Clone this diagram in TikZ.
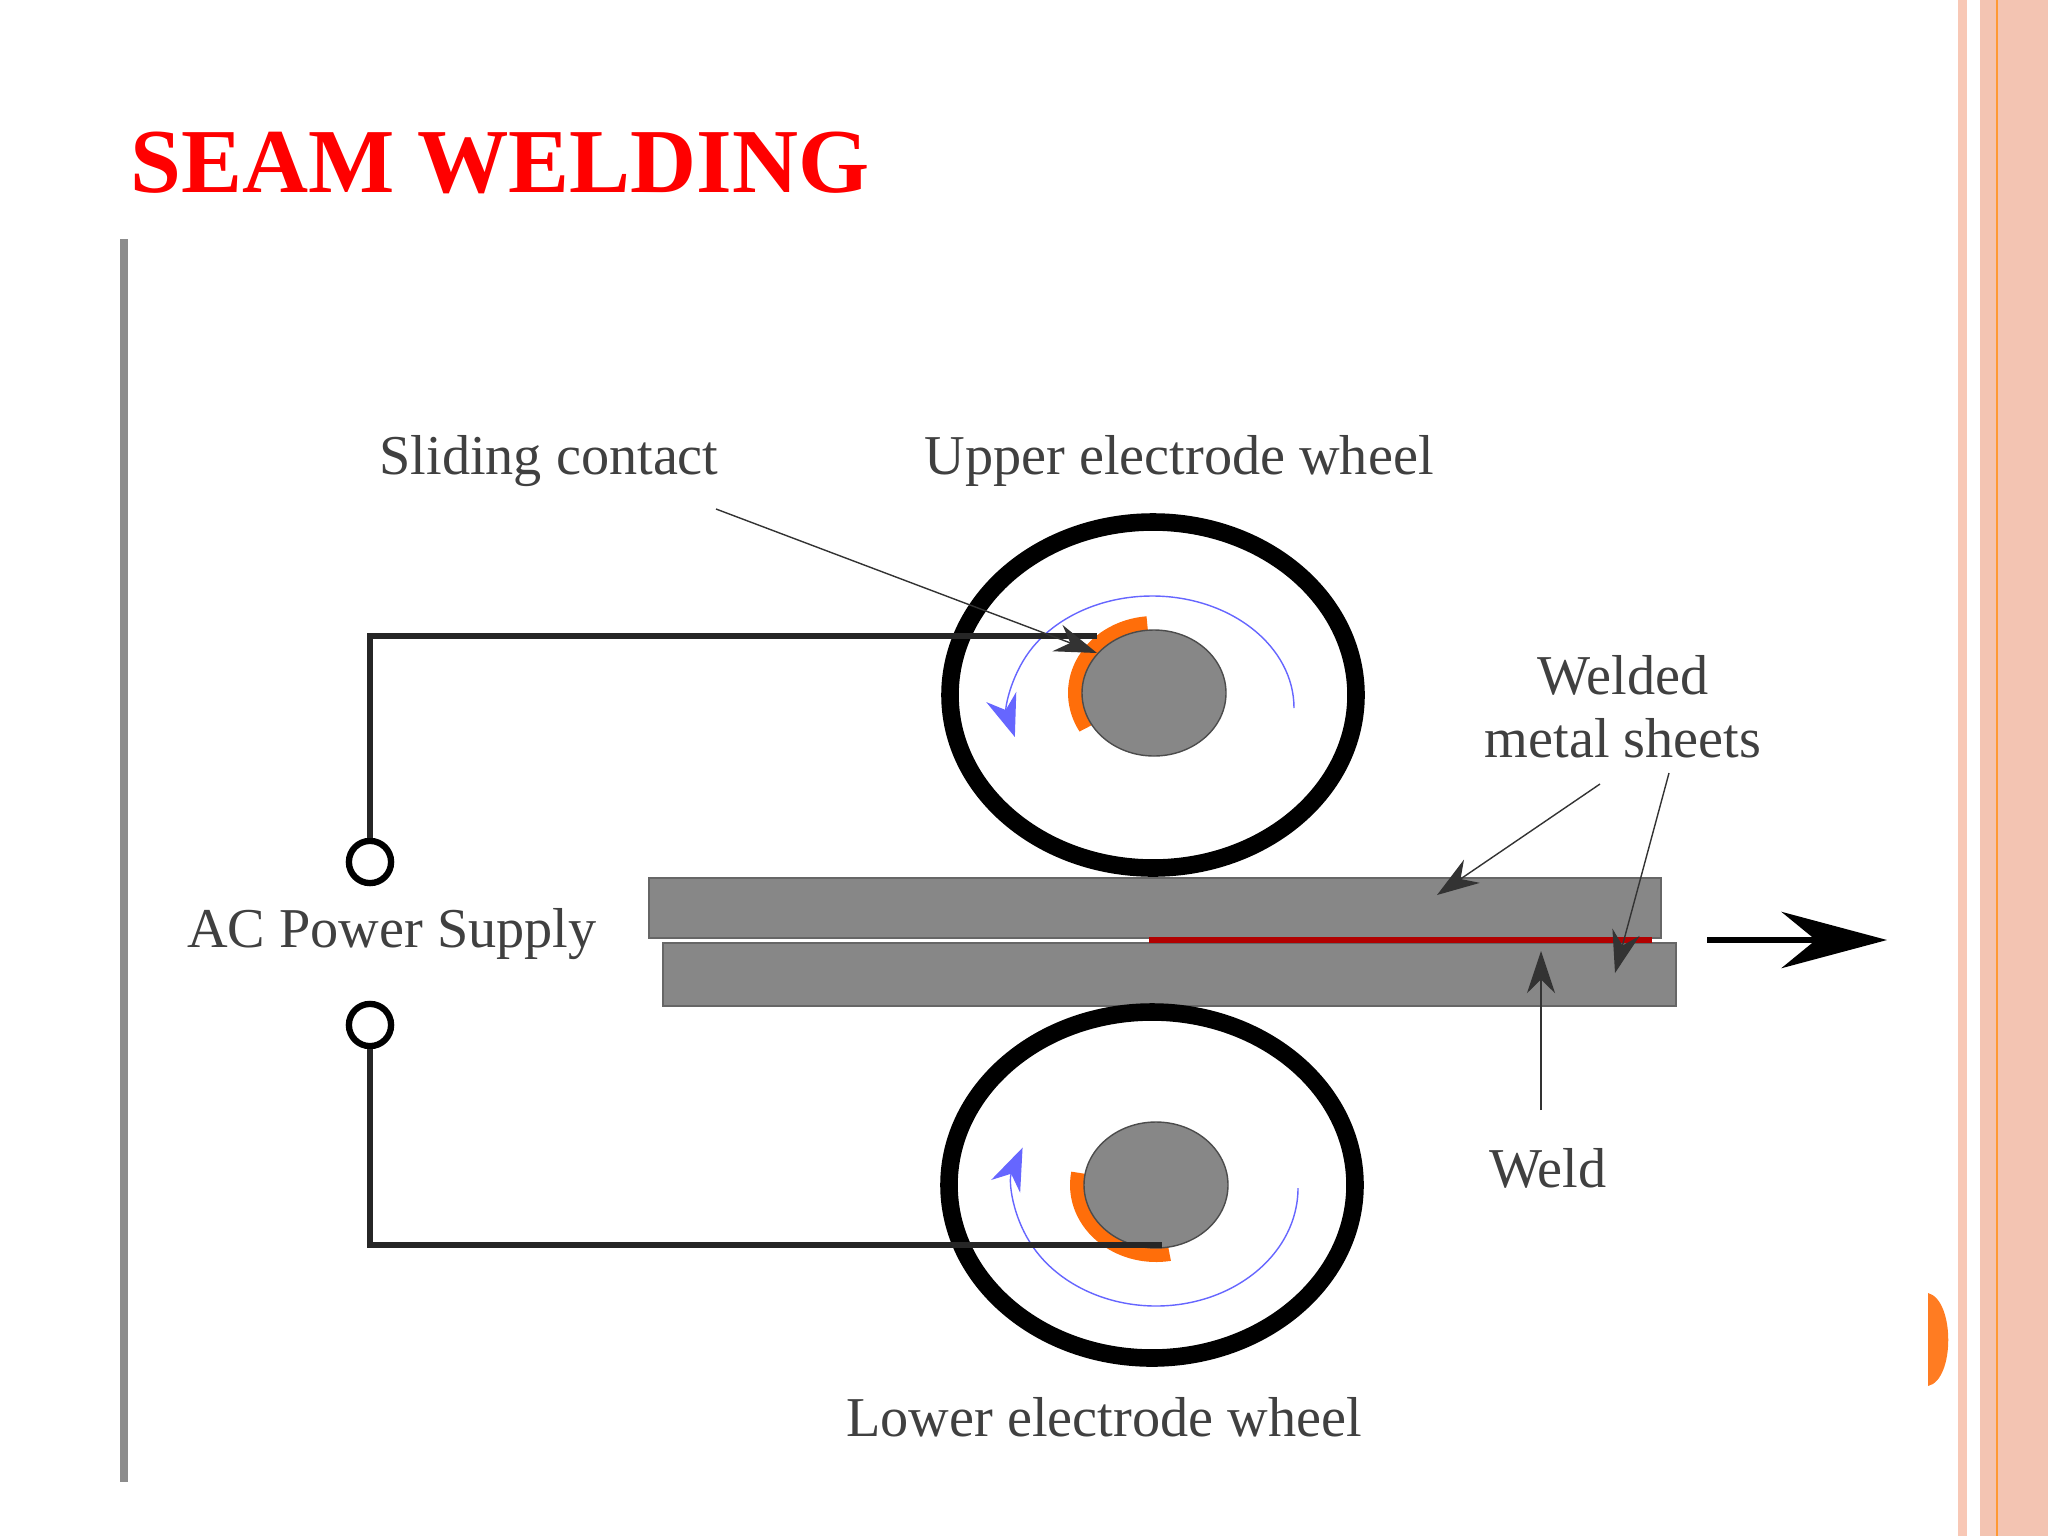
\documentclass[tikz,border=0pt]{standalone}
\usepackage{fontspec}
\setmainfont{Liberation Serif}
\usetikzlibrary{arrows.meta}
\definecolor{stripe}{RGB}{243,196,178}
\definecolor{lightstripe}{RGB}{248,200,182}
\definecolor{contact}{RGB}{255,110,10}
\definecolor{sheet}{RGB}{135,135,135}
\tikzset{
  label/.style={text=black!75,font=\fontsize{16}{18}\selectfont},
  wire/.style={line width=1.6pt,black!85},
  terminal/.style={draw,circle,line width=1.8pt,minimum size=12pt,inner sep=0pt},
  leader/.style={thin,black!80,-{Stealth[length=12pt,width=8pt]}},
  wheel/.style={line width=5pt},
  spin/.style={blue!60,thin,-{Stealth[length=12pt,width=9pt]}}
}
\begin{document}
\begin{tikzpicture}[x=0.01cm,y=-0.01cm]
    \useasboundingbox (0,0) rectangle (2048,1536);
    
    % slide frame
    \fill[lightstripe] (1958,0) rectangle (1967,1536);
    \fill[stripe] (1980,0) rectangle (2048,1536);
    \draw[orange!80,thick] (1997,0) -- (1997,1536);
    \fill[contact!90] (1928,1293) .. controls (1955,1300) and (1955,1380) .. (1928,1386) -- cycle;
    \draw[black!45,line width=2pt] (124,239) -- (124,1482);
    \node[anchor=west,text=red,font=\bfseries\fontsize{26}{30}\selectfont] (title) at (118,163) {SEAM WELDING};
    
    % sheets
    \fill[sheet] (663,943) rectangle (1676,1006);
    \draw[black!60] (663,943) rectangle (1676,1006);
    \fill[sheet] (649,878) rectangle (1661,938);
    \draw[black!60] (649,878) rectangle (1661,938);
    \draw[red!70!black,line width=1.5pt] (1149,940) -- (1652,940);
    
    % wheels
    \draw[wheel,fill=white] (1153,695) ellipse (203 and 173);
    \draw[wheel,fill=white] (1152,1185) ellipse (203 and 173);
    \fill[contact] (1154,693) -- ++(-95:86 and 77) arc (-95:-210:86 and 77) -- cycle;
    \fill[contact] (1156,1185) -- ++(-170:86 and 77) arc (-170:-280:86 and 77) -- cycle;
    \draw[black!70,fill=sheet] (1154,693) ellipse (72 and 63);
    \draw[black!70,fill=sheet] (1156,1185) ellipse (72 and 63);
    \draw[spin] (1294,708) arc (0:-195:142 and 112);
    \draw[spin] (1298,1188) arc (0:200:142 and 118);
    
    % circuit
    \node[terminal] (t1) at (370,862) {};
    \node[terminal] (t2) at (370,1025) {};
    \coordinate (c1) at (1097,636);
    \coordinate (c2) at (1162,1245);
    \draw[wire] (t1) |- (c1);
    \draw[wire] (t2) |- (c2);
    \node[label] (ac) at (392,934) {AC Power Supply};
    
    % labels
    \node[label] (slide) at (549,461) {Sliding contact};
    \node[label] (upper) at (1179,461) {Upper electrode wheel};
    \node[label,align=center] (welded) at (1623,707) {Welded\\metal sheets};
    \node[label] (lower) at (1104,1417) {Lower electrode wheel};
    \node[label] (weld) at (1548,1168) {Weld};
    
    \coordinate (s1) at (716,509);
    \coordinate (w1) at (1600,784);
    \coordinate (w2) at (1669,773);
    \coordinate (w3) at (1541,1110);
    \draw[leader] (s1) -- (1097,653);
    \draw[leader] (w1) -- (1437,895);
    \draw[leader] (w2) -- (1615,973);
    \draw[leader] (w3) -- (1541,951);
    \coordinate (m1) at (1707,940);
    \coordinate (m2) at (1887,940);
    \draw[line width=1.6pt,-{Stealth[length=30pt,width=16pt]}] (m1) -- (m2);
\end{tikzpicture}
\end{document}
